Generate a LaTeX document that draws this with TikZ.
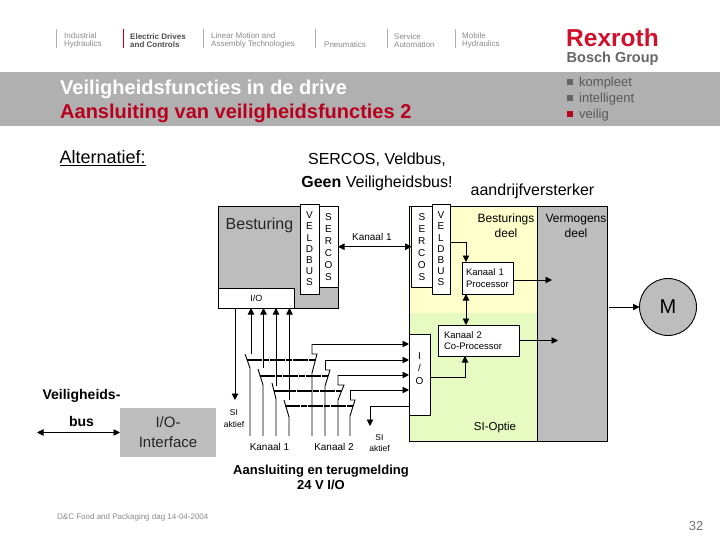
\documentclass[tikz,border=0pt]{standalone}
\usepackage{fontspec}
\setmainfont{Liberation Sans}
\usetikzlibrary{arrows.meta,positioning,calc}
\definecolor{band}{HTML}{B0B0B0}
\definecolor{blok}{HTML}{BDBDBD}
\definecolor{geel}{HTML}{FFFFCC}
\definecolor{groen}{HTML}{E6FAC2}
\definecolor{rood}{HTML}{B8001F}
\definecolor{logorood}{HTML}{D0102C}
\definecolor{navgrijs}{HTML}{8A8A8A}
\newcommand{\px}[1]{\fontsize{#1}{#1}\selectfont}

\begin{document}
\begin{tikzpicture}[
x=1pt, y=-1pt,
kast/.style={draw, inner sep=0pt, outer sep=0pt, line width=0.9pt, fill=white},
vlak/.style={inner sep=0pt, outer sep=0pt},
tekst/.style={inner sep=0pt, align=center},
klein/.style={tekst, font=\px{10}},
nav/.style={tekst, anchor=west, align=left, text=navgrijs, font=\fontsize{8}{8.6}\selectfont},
navlijn/.style={draw=navgrijs!70, line width=0.6pt},
punt/.style={vlak, minimum size=6pt, fill=#1},
merk/.style={tekst, anchor=west, text=black!65, font=\px{13}},
pijl/.style={-{Triangle[length=6.5pt,width=6.5pt]}, line width=0.9pt},
dubbel/.style={{Triangle[length=6.5pt,width=6.5pt]}-{Triangle[length=6.5pt,width=6.5pt]}, line width=0.9pt},
draad/.style={line width=0.9pt},
koppel/.style={line width=1.5pt, dash pattern=on 15pt off 1pt on 6pt off 1pt}
]
\useasboundingbox (0,0) rectangle (720,540);

% kop
\node[vlak, fill=band, minimum width=720pt, minimum height=54pt] (kopband) at (360,99) {};
\node[tekst, anchor=west, text=white, font=\bfseries\px{20}] (titel) at (60,89.5) {Veiligheidsfuncties in de drive};
\node[tekst, anchor=west, text=rood, font=\bfseries\px{20}] (subtitel) at (60,113.5) {Aansluiting van veiligheidsfuncties 2};
\node[nav] (nav1) at (64,40.5) {Industrial\\Hydraulics};
\node[nav, text=black!70, font=\bfseries\fontsize{8}{8.6}\selectfont] (nav2) at (130,40.5) {Electric Drives\\and Controls};
\node[nav] (nav3) at (211,40.5) {Linear Motion and\\Assembly Technologies};
\node[nav] (nav4) at (324,44.5) {Pneumatics};
\node[nav] (nav5) at (394,40.5) {Service\\Automation};
\node[nav] (nav6) at (462,40.5) {Mobile\\Hydraulics};
\draw[navlijn] (56.5,29) -- (56.5,48);
\draw[navlijn, draw=rood] (123.5,29) -- (123.5,48);
\draw[navlijn] (203.7,29) -- (203.7,48);
\draw[navlijn] (315.7,29) -- (315.7,48);
\draw[navlijn] (387,29) -- (387,48);
\draw[navlijn] (455,29) -- (455,48);
\node[tekst, anchor=west, text=logorood, font=\bfseries\px{24.5}] (rexroth) at (566,37.5) {Rexroth};
\node[tekst, anchor=west, text=black!60, font=\bfseries\px{14.5}] (bosch) at (566.5,59) {Bosch Group};
\node[punt=black!60] (p1) at (570,82) {};
\node[punt=black!60] (p2) at (570,98) {};
\node[punt=rood] (p3) at (570,114) {};
\node[merk] (kompleet) at (579,83) {kompleet};
\node[merk] (intelligent) at (579,99) {intelligent};
\node[merk] (veilig) at (579,115) {veilig};

% koppen boven het schema
\node[tekst, anchor=west, font=\px{18}] (alternatief) at (59.5,158) {\underline{Alternatief:}};
\node[tekst, font=\px{16}] (sercosveld) at (377,160) {SERCOS, Veldbus,};
\node[tekst, below=8.5pt of sercosveld, font=\px{16}] (geen) {\textbf{Geen} Veiligheidsbus!};
\node[tekst, font=\px{16}] (versterker) at (532.5,191) {aandrijfversterker};

% besturing
\node[kast, fill=blok, minimum width=119.5pt, minimum height=102pt] (besturing) at (278.25,257) {};
\node[tekst, font=\px{16}, text=black!85] (besturingtxt) at (259.5,225) {Besturing};
\node[kast, minimum width=75.5pt, minimum height=20pt, font=\px{9}] (io) at (256.25,298) {I/O};
\node[kast, minimum width=19pt, minimum height=81.5pt, align=center, font=\fontsize{10}{12}\selectfont] (sercosl) at (328.5,246.75) {S\\E\\R\\C\\O\\S};
\node[kast, minimum width=19pt, minimum height=90pt, align=center, font=\fontsize{10}{11.2}\selectfont] (veldl) at (309.5,249) {V\\E\\L\\D\\B\\U\\S};

% aandrijving
\node[vlak, fill=geel, minimum width=128pt, minimum height=107pt] (geelvlak) at (473,259.5) {};
\node[vlak, fill=groen, minimum width=128pt, minimum height=128pt] (groenvlak) at (473,377) {};
\node[kast, fill=none, minimum width=128pt, minimum height=235pt] (regeldeel) at (473,323.5) {};
\node[kast, fill=blok, minimum width=70.5pt, minimum height=235pt] (vermogen) at (572.25,323.5) {};
\node[kast, minimum width=20.3pt, minimum height=81.5pt, align=center, font=\fontsize{10}{12}\selectfont] (sercosr) at (421.85,246.75) {S\\E\\R\\C\\O\\S};
\node[kast, minimum width=18pt, minimum height=90pt, align=center, font=\fontsize{10}{11.2}\selectfont] (veldr) at (441,249) {V\\E\\L\\D\\B\\U\\S};
\node[tekst, font=\fontsize{12}{15}\selectfont] (besturingsdeel) at (506,225.5) {Besturings\\deel};
\node[tekst, font=\fontsize{12}{15}\selectfont] (vermogensdeel) at (576,225.5) {Vermogens\\deel};
\node[kast, minimum width=51pt, minimum height=32pt, text width=43pt, align=left, font=\fontsize{9.5}{12.5}\selectfont] (k1) at (487.5,278) {Kanaal 1\\Processor};
\node[kast, minimum width=81pt, minimum height=31pt, text width=69pt, align=left, font=\fontsize{9.5}{11.5}\selectfont] (k2) at (478.5,340.5) {Kanaal 2\\Co-Processor};
\node[kast, minimum width=21pt, minimum height=81pt, align=center, font=\fontsize{10}{12.5}\selectfont] (ior) at (419.5,374.5) {I\\/\\O\\~};
\node[tekst, font=\px{11.5}] (sioptie) at (495,428) {SI-Optie};
\node[kast, circle, fill=blok, minimum size=57pt, font=\px{20}] (motor) at (668,307) {M};

% interface
\node[vlak, fill=blok, minimum width=96pt, minimum height=49pt, align=center, text=black!85, font=\fontsize{15}{20}\selectfont] (interface) at (168,432.5) {I/O-\\Interface};
\node[tekst, font=\bfseries\px{14}] (veiligheids) at (81.5,396) {Veiligheids-};
\node[tekst, font=\bfseries\px{14}] (bus) at (81.5,421) {bus};
\coordinate (busuit) at (37,432.5);

% labels
\node[klein, above=6pt of $(sercosl.east)!0.5!(sercosr.west)$, xshift=-3pt] (kanaal1) {Kanaal 1};
\node[klein, font=\fontsize{8.5}{12}\selectfont] (sil) at (234,419) {SI\\aktief};
\node[klein, font=\fontsize{8.5}{11}\selectfont] (sir) at (379.5,443.5) {SI\\aktief};
\node[klein] (ingang1) at (269.5,447) {Kanaal 1};
\node[klein] (ingang2) at (334,447) {Kanaal 2};
\node[tekst, font=\bfseries\fontsize{13}{15}\selectfont] (aansluiting) at (321,477.5) {Aansluiting en terugmelding\\24 V I/O};
\node[tekst, anchor=west, text=navgrijs, font=\px{8}] (voet) at (57,517) {D\&C Food and Packaging dag 14-04-2004};
\node[tekst, text=black!55, font=\px{13}] (pagina) at (696,526) {32};

% verbindingen schema
\draw[dubbel] (sercosl.east) -- (sercosr.west);
\draw[pijl] ([yshift=7pt]veldr.east) -| ([xshift=4pt]k1.north west);
\draw[dubbel] ([xshift=4pt]k1.south west) -- ([xshift=4pt]k1.south west |- k2.north);
\coordinate (k1uit) at (552,280);
\draw[pijl] ([yshift=-2pt]k1.east) -- (k1uit);
\coordinate (k2uit) at (558,340.5);
\draw[pijl] (k2.east) -- (k2uit);
\coordinate (motorin) at (609,307);
\draw[pijl] (motorin) -- (motor.west);
\draw[pijl] ([yshift=-2.5pt]ior.east) -| ([xshift=-13.5pt]k2.south);
\coordinate (siruit) at (370,426);
\draw[pijl] ([yshift=-31.5pt]ior.west) -| (siruit);
\coordinate (siluit) at (235,400);
\draw[pijl] (siluit |- io.south) -- (siluit);
\draw[dubbel] (busuit) -- (interface.west);

% schakelaars links
\coordinate (a1) at (251,354);
\coordinate (a2) at (263.5,368);
\coordinate (a3) at (276,386);
\coordinate (a4) at (289.5,400);
\draw[pijl] (a1) -- (a1 |- io.south);
\draw[pijl] (a2) -- (a2 |- io.south);
\draw[pijl] (a3) -- (a3 |- io.south);
\draw[pijl] (a4) -- (a4 |- io.south);
\draw[draad] (250,436) -- (250,368) -- (245,354);
\draw[draad] (263,436) -- (263,385) -- (258,369);
\draw[draad] (276,436) -- (276,399) -- (272,383);
\draw[draad] (289,436) -- (289,417) -- (284,400);

% schakelaars rechts
\coordinate (b1) at (312,344);
\coordinate (b2) at (325.5,360);
\coordinate (b3) at (338,375);
\coordinate (b4) at (350.5,390);
\draw[pijl] (b1) -- (b1 -| ior.west);
\draw[pijl] (b2) -- (b2 -| ior.west);
\draw[pijl] (b3) -- (b3 -| ior.west);
\draw[pijl] (b4) -- (b4 -| ior.west);
\draw[draad] (b1) -- (312,354) -- (317,354) -- (312,373) -- (312,436);
\draw[draad] (b2) -- (325.5,370) -- (330,370) -- (325,386) -- (325,436);
\draw[draad] (b3) -- (338,385) -- (344,385) -- (338,400) -- (338,436);
\draw[draad] (b4) -- (350.5,400) -- (355,400) -- (350,416) -- (350,436);

% mechanische koppeling
\draw[koppel] (247,360) -- (315,360);
\draw[koppel] (260,376) -- (328,376);
\draw[koppel] (274,391) -- (341,391);
\draw[koppel] (285,406) -- (353,406);
\end{tikzpicture}
\end{document}
